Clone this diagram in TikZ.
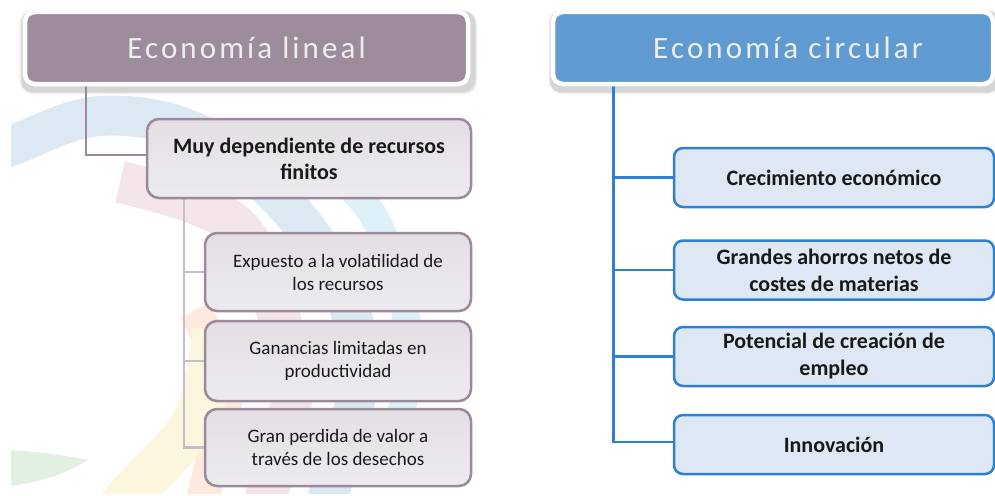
\documentclass[tikz,border=0pt]{standalone}
\usepackage{fontspec}
\setmainfont{Carlito}
\newfontfamily\titlefont[LetterSpace=10]{Carlito}
\definecolor{mauve}{HTML}{9D8C9E}
\definecolor{mauveline}{HTML}{9A8A9B}
\definecolor{mauvesub}{HTML}{C6BDC7}
\definecolor{boxtop}{HTML}{E3DEE4}
\definecolor{boxbot}{HTML}{EEEBF0}
\definecolor{ctitle}{HTML}{5F9BD0}
\definecolor{cline}{HTML}{2E7FD8}
\definecolor{cfill}{HTML}{DEE8F4}
\definecolor{ttext}{HTML}{EEEEEE}
\definecolor{wmblue}{HTML}{DCE9F3}
\definecolor{wmcyan}{HTML}{DEF1F8}
\definecolor{wmpink}{HTML}{F4E5EA}
\definecolor{wmorange}{HTML}{FDE9DD}
\definecolor{wmyellow}{HTML}{FDF6DE}
\definecolor{wmgreen}{HTML}{E2F0E1}
\pgfdeclarelayer{wm}
\pgfdeclarelayer{bg}
\pgfsetlayers{wm,bg,main}
\begin{document}
\begin{tikzpicture}[x=1pt,y=-1pt,
  titlebox/.style={draw=white, line width=4.5pt, rounded corners=10pt, minimum height=72pt,
    font=\titlefont\fontsize{31}{36}\selectfont, text=ttext, inner sep=0pt},
  lbox/.style={draw=mauveline, line width=2.5pt, rounded corners=12pt, top color=boxtop, bottom color=boxbot,
    minimum width=324pt, align=center, inner sep=0pt, text=black!90},
  rbox/.style={draw=cline, line width=2.5pt, rounded corners=9pt, fill=cfill, minimum width=320pt,
    minimum height=59pt, align=center, inner sep=0pt, text=black!90,
    font=\bfseries\fontsize{22}{27}\selectfont},
  boldtxt/.style={font=\bfseries\fontsize{22}{26}\selectfont},
  regtxt/.style={font=\fontsize{19}{23}\selectfont},
  lconn/.style={draw=mauveline, line width=2.5pt},
  subconn/.style={draw=mauvesub, line width=2.5pt},
  rconn/.style={draw=cline, line width=2.8pt},
  band/.style={line width=#1, line cap=butt}
]
\useasboundingbox (0,0) rectangle (995,495);
% watermark
\begin{pgfonlayer}{wm}
\begin{scope}
\clip (11,0) rectangle (995,493);
\draw[wmblue, band=40pt] plot[smooth, tension=0.6] coordinates {(-20,158) (11,146) (100,116) (200,135) (295,215) (350,310) (355,400) (330,490) (318,530)};
\draw[wmcyan, band=28pt] plot[smooth, tension=0.6] coordinates {(310,150) (373,215) (405,310) (403,400) (395,450)};
\draw[wmpink, band=42pt] plot[smooth, tension=0.6] coordinates {(120,182) (232,222) (277,310) (291,400) (268,490) (255,530)};
\draw[wmorange, band=33pt] plot[smooth, tension=0.6] coordinates {(195,310) (224,370) (226,400) (205,490) (195,530)};
\draw[wmyellow, band=45pt] plot[smooth, tension=0.6] coordinates {(215,330) (195,420) (130,495) (100,530)};
\fill[wmgreen] (8,450) .. controls (40,452) and (70,456) .. (88,460) .. controls (65,474) and (40,483) .. (8,486) -- cycle;
\end{scope}
% shadows of titles
\foreach \o/\a in {0/0.06,1/0.06,2/0.06}{
  \fill[black, opacity=\a, rounded corners=12pt] (20+\o-0.5,10+\o) rectangle (475+\o,92+\o);
  \fill[black, opacity=\a, rounded corners=12pt] (549+\o-0.5,10+\o) rectangle (1000,92+\o);
}
\end{pgfonlayer}
% titles
\node[titlebox, fill=mauve, minimum width=443pt] (tl) at (246.5,48) {Economía lineal};
\node[titlebox, fill=ctitle, minimum width=440pt] (tr) at (773,48) {\hspace*{30pt}Economía circular};
% left boxes
\node[lbox, boldtxt, minimum height=79pt] (muy) at (309,158.5) {Muy dependiente de recursos\\finitos};
\node[lbox, regtxt, minimum width=266pt, minimum height=78pt] (b1) at (338,272) {Expuesto a la volatilidad de\\los recursos};
\node[lbox, regtxt, minimum width=266pt, minimum height=80pt] (b2) at (338,361) {Ganancias limitadas en\\productividad};
\node[lbox, regtxt, minimum width=266pt, minimum height=77pt] (b3) at (338,447.5) {Gran perdida de valor a\\través de los desechos};
% right boxes
\node[rbox] (c1) at (834,177.5) {Crecimiento económico};
\node[rbox] (c2) at (834,270) {Grandes ahorros netos de\\costes de materias};
\node[rbox] (c3) at (834,356.5) {Potencial de creación de\\empleo};
\node[rbox] (c4) at (834,444.5) {Innovación};
% connectors, behind the boxes
\begin{pgfonlayer}{bg}
\path[lconn] ([xshift=63pt]tl.south west) |- ([yshift=3.5pt]muy.west);
\path[subconn] ([xshift=38pt]muy.south west) |- (b3.west);
\path[subconn] ([xshift=38pt]muy.south west |- b1.west) -- (b1.west);
\path[subconn] ([xshift=38pt]muy.south west |- b2.west) -- (b2.west);
\path[rconn] ([xshift=63pt]tr.south west) |- ([yshift=2.5pt]c4.west);
\path[rconn] ([xshift=63pt]tr.south west |- c1.west) -- (c1.west);
\path[rconn] ([xshift=63pt]tr.south west |- c2.west) -- (c2.west);
\path[rconn] ([xshift=63pt]tr.south west |- c3.west) -- (c3.west);
\end{pgfonlayer}
\end{tikzpicture}
\end{document}
